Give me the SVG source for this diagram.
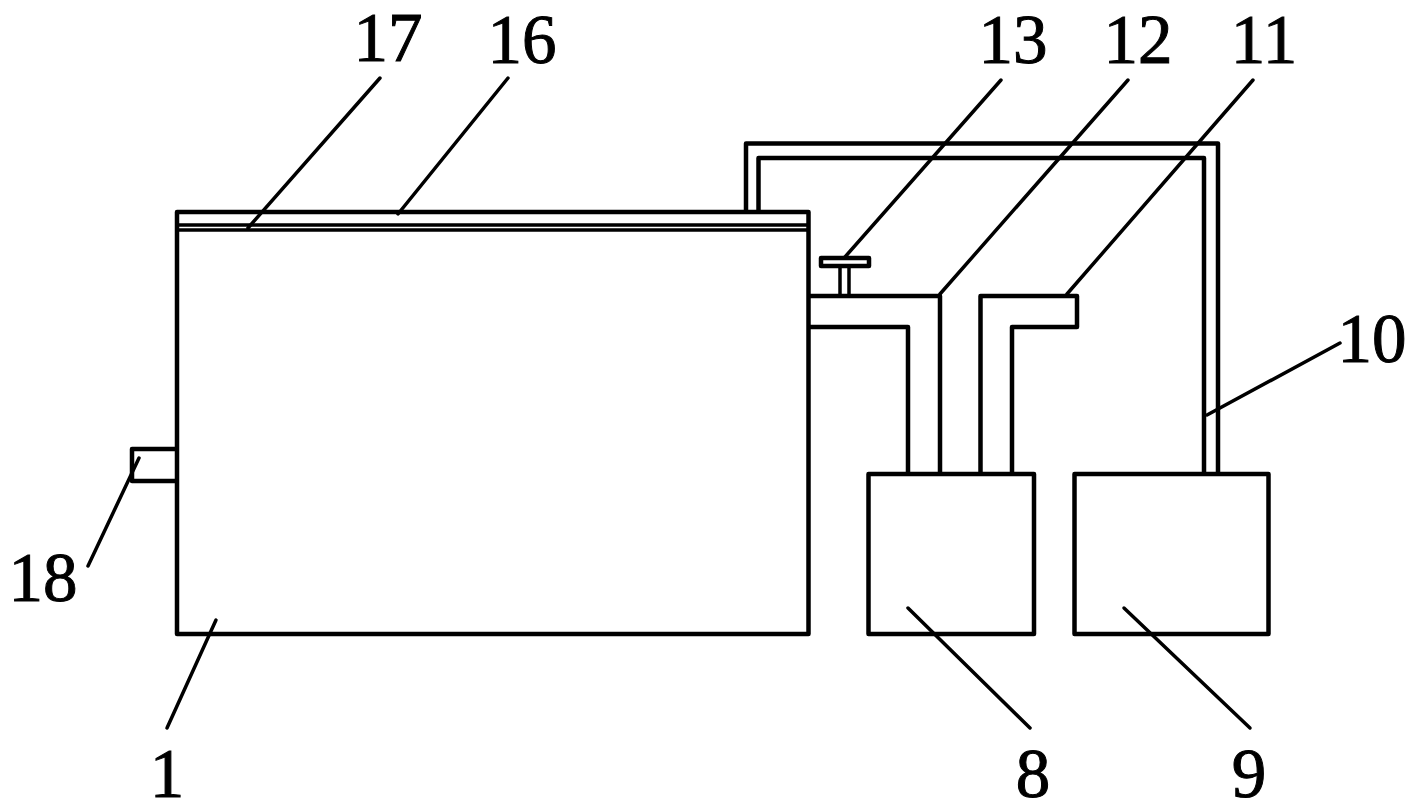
<svg xmlns="http://www.w3.org/2000/svg" width="1413" height="811" viewBox="0 0 1413 811">
<style>
.s{fill:none;stroke:#000;stroke-width:4.500;stroke-linejoin:round}
.t{fill:none;stroke:#000;stroke-width:3.500}
.l{fill:none;stroke:#000;stroke-width:3.500;stroke-linecap:round}
text{font-family:"Liberation Serif","Times New Roman",serif;font-size:69px;fill:#000;stroke:#000;stroke-width:1;text-anchor:middle}
</style>
<rect width="1413" height="811" fill="#fff"/>
<g id="tank-1"><rect class="s" x="177" y="212" width="631.500" height="422"/></g>
<g id="lid-16-17"><path class="t" d="M177 225H808.500M177 230H808.500"/></g>
<g id="outlet-18"><path class="s" d="M177 449H132V481H177"/></g>
<g id="box-8"><rect class="s" x="868.500" y="474" width="165.500" height="160"/></g>
<g id="box-9"><rect class="s" x="1074.500" y="474" width="194" height="160"/></g>
<g id="pipe-10"><path class="s" d="M746 212V143.500H1218V474M758.500 212V158H1204V474"/></g>
<g id="pipe-12"><path class="s" d="M808.500 296H940V474M808.500 327H908V474"/></g>
<g id="pipe-11"><path class="s" d="M980.500 474V296H1077V327H1012V474"/></g>
<g id="valve-13"><rect class="s" x="821" y="258" width="48" height="8"/><path class="t" d="M840 267V296M849 267V296"/></g>
<g id="connectors">
<path class="l" d="M380 78L248 228"/>
<path class="l" d="M508 78L398 214"/>
<path class="l" d="M1001 80L845 257"/>
<path class="l" d="M1128 80L940 294"/>
<path class="l" d="M1253 80L1067 294"/>
<path class="l" d="M1340 343L1207 415"/>
<path class="l" d="M139 458L88 566"/>
<path class="l" d="M216 620L167 728"/>
<path class="l" d="M908 608L1030 728"/>
<path class="l" d="M1124 608L1250 728"/>
</g>
<g id="labels">
<text x="388" y="60.500">17</text>
<text x="522" y="63">16</text>
<text x="1013" y="63">13</text>
<text x="1138" y="63">12</text>
<text x="1264" y="63">11</text>
<text x="1372" y="362">10</text>
<text x="43" y="601">18</text>
<text x="167" y="797">1</text>
<text x="1033" y="797">8</text>
<text x="1249" y="797">9</text>
</g>
</svg>
